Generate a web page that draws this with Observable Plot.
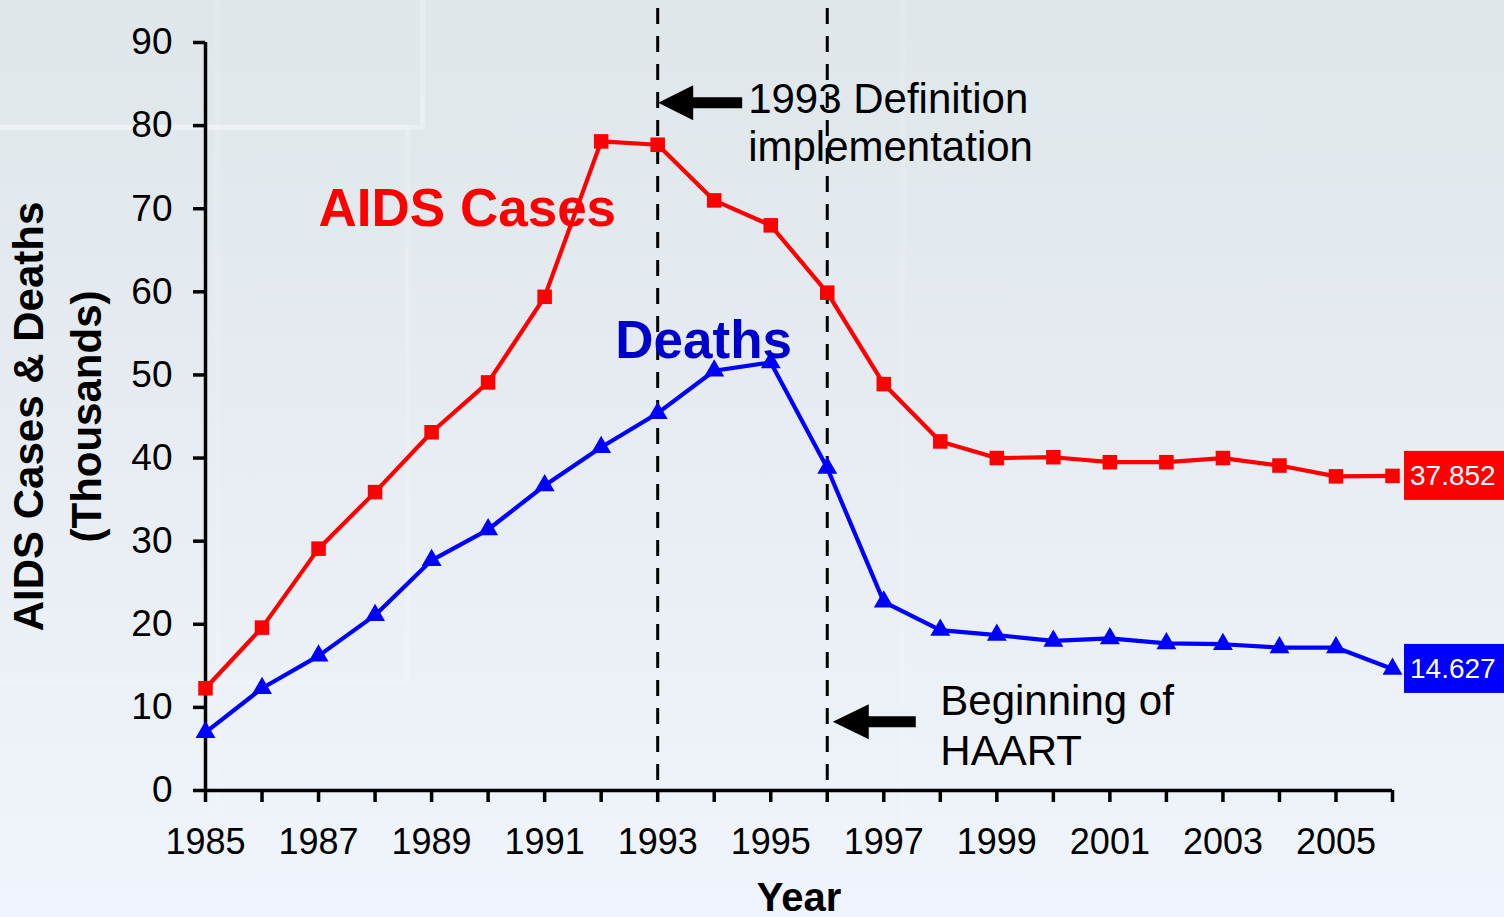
<!DOCTYPE html>
<html><head><meta charset="utf-8">
<script src="https://cdn.jsdelivr.net/npm/d3@7"></script>
<script src="https://cdn.jsdelivr.net/npm/@observablehq/plot@0.6"></script>
<style>
html,body{margin:0;padding:0;width:1504px;height:917px;overflow:hidden;}
body{position:relative;background:linear-gradient(180deg,#dfe7eb 0%,#e5ebf0 40%,#ecf1f8 75%,#f0f4fc 100%);font-family:"Liberation Sans",Arial,sans-serif;}
.deco{position:absolute;border:5px solid rgba(255,255,255,0.28);box-sizing:border-box;}
#chart{position:absolute;left:0;top:0;}
</style></head><body>
<div class="deco" style="left:-20px;top:-20px;width:445px;height:150px;"></div>
<div class="deco" style="left:-20px;top:125px;width:430px;height:560px;border-color:rgba(255,255,255,0.18)"></div>
<div class="deco" style="left:215px;top:-20px;width:690px;height:850px;border-color:rgba(255,255,255,0.12)"></div>
<div id="chart"></div>
<script>
// ---- data ----
const years = [1985,1986,1987,1988,1989,1990,1991,1992,1993,1994,1995,1996,1997,1998,1999,2000,2001,2002,2003,2004,2005,2006];
const aidsCases = [12.3,19.6,29.1,35.9,43.1,49.1,59.4,78.1,77.7,71.0,68.0,59.9,48.9,42.0,40.0,40.1,39.5,39.5,40.0,39.1,37.8,37.852];
const deaths = [7.0,12.3,16.2,21.1,27.7,31.4,36.7,41.3,45.4,50.5,51.5,38.8,22.7,19.3,18.7,18.0,18.3,17.7,17.6,17.2,17.2,14.627];
const yTicks = [0,10,20,30,40,50,60,70,80,90];
const xLabelYears = [1985,1987,1989,1991,1993,1995,1997,1999,2001,2003,2005];
const eventYears = [1993,1996];
const seriesNames = ["AIDS Cases","Deaths"];
const yTitle = ["AIDS Cases & Deaths","(Thousands)"];
const xTitle = "Year";
const definitionNote = "1993 Definition\nimplementation";
const haartNote = "Beginning of\nHAART";

const casesData = years.map((x,i)=>({x, y: aidsCases[i]}));
const deathsData = years.map((x,i)=>({x, y: deaths[i]}));
const lastYear = years[years.length-1];

const FONT = '"Liberation Sans", Arial, sans-serif';

function arrowPath(tx, ty, headLen, headHalf, shaftHalf, total){
  return `M${tx},${ty}L${tx+headLen},${ty-headHalf}L${tx+headLen},${ty-shaftHalf}L${tx+total},${ty-shaftHalf}L${tx+total},${ty+shaftHalf}L${tx+headLen},${ty+shaftHalf}L${tx+headLen},${ty+headHalf}Z`;
}

function arrows(index, scales){
  const g = d3.create("svg:g");
  g.append("path").attr("d", arrowPath(scales.x(eventYears[0])+1, scales.y(82.7), 35, 17.5, 5.5, 84)).attr("fill","black");
  g.append("path").attr("d", arrowPath(scales.x(eventYears[1])+6, scales.y(8.2), 36, 17.5, 5.5, 83)).attr("fill","black");
  return g.node();
}

function endLabels(index, scales){
  const g = d3.create("svg:g");
  const items = [[aidsCases[aidsCases.length-1], "#ff0000"], [deaths[deaths.length-1], "#0000ff"]];
  const x0 = scales.x(lastYear) + 12;
  for (const [v, c] of items){
    const yc = scales.y(v);
    g.append("rect").attr("x", x0).attr("y", yc-24.5).attr("width", 110).attr("height", 49).attr("fill", c);
    g.append("text").attr("x", x0+6).attr("y", yc).attr("dy","0.35em").attr("fill","white")
      .attr("text-anchor","start").attr("font-size", 28).attr("font-family", FONT).text(v.toFixed(3));
  }
  return g.node();
}

const chart = Plot.plot({
  width: 1504, height: 917,
  marginLeft: 205, marginRight: 112, marginTop: 42, marginBottom: 127,
  style: {background: "transparent", fontFamily: FONT, overflow: "visible", color: "black"},
  x: {domain: [1985, 2006]},
  y: {domain: [0, 90]},
  marks: [
    Plot.ruleX(eventYears, {stroke: "black", strokeWidth: 3, strokeDasharray: "16,12", insetTop: -34}),
    Plot.axisY({ticks: yTicks, tickSize: 12, tickPadding: 21, fontSize: 37, strokeWidth: 3.5, label: null, tickFormat: d => String(d)}),
    Plot.axisX({ticks: years, tickSize: 12, tickPadding: 26, fontSize: 36, strokeWidth: 3.5, label: null,
      tickFormat: d => xLabelYears.includes(d) ? String(d) : ""}),
    Plot.ruleX([1985], {strokeWidth: 3.5}),
    Plot.ruleY([0], {strokeWidth: 3.5}),
    Plot.line(casesData, {x: "x", y: "y", stroke: "#ff0000", strokeWidth: 4.2}),
    Plot.line(deathsData, {x: "x", y: "y", stroke: "#0000ff", strokeWidth: 4.2}),
    Plot.dot(casesData, {x: "x", y: "y", symbol: "square", r: 8.2, fill: "#ff0000"}),
    Plot.dot(deathsData, {x: "x", y: "y", symbol: "triangle", r: 7.4, fill: "#0000ff"}),
    Plot.text([seriesNames[0]], {x: 1987.0, y: 70.0, text: d => d, textAnchor: "start", fontSize: 53, fontWeight: "bold", fill: "#ff0000"}),
    Plot.text([seriesNames[1]], {x: 1992.25, y: 54.1, text: d => d, textAnchor: "start", fontSize: 53, fontWeight: "bold", fill: "#0000cc"}),
    Plot.text([definitionNote], {x: 1994.6, y: 85.7, text: d => d, textAnchor: "start", lineAnchor: "top", fontSize: 42, lineHeight: 1.15, fill: "black"}),
    Plot.text([haartNote], {x: 1998.0, y: 13.3, text: d => d, textAnchor: "start", lineAnchor: "top", fontSize: 42, lineHeight: 1.19, fill: "black"}),
    arrows,
    endLabels,
    Plot.text([yTitle[0]], {frameAnchor: "left", dx: -176, rotate: -90, textAnchor: "middle", lineAnchor: "middle", text: d => d, fontSize: 42, fontWeight: "bold", fill: "black"}),
    Plot.text([yTitle[1]], {frameAnchor: "left", dx: -118, rotate: -90, textAnchor: "middle", lineAnchor: "middle", text: d => d, fontSize: 42, fontWeight: "bold", fill: "black"}),
    Plot.text([xTitle], {frameAnchor: "bottom", dy: 120, text: d => d, fontSize: 40, fontWeight: "bold", fill: "black"})
  ]
});
document.getElementById("chart").appendChild(chart);
</script>
</body></html>
